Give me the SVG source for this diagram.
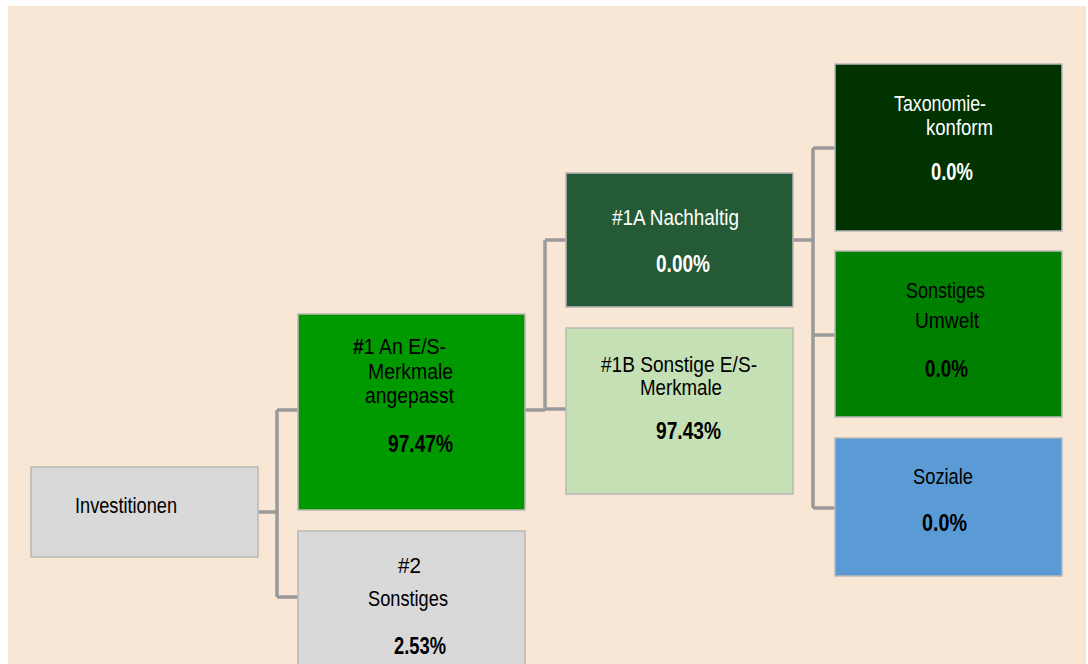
<svg xmlns="http://www.w3.org/2000/svg" width="1088" height="664" viewBox="0 0 1088 664">
<style>
text{font-family:"Liberation Sans",Arial,sans-serif;font-size:22px}
.b{font-weight:bold;font-size:23px}
.w{fill:#ffffff}
.box{stroke:#b8b8b8;stroke-width:1.5}
.con{fill:none;stroke:#9a9a9a;stroke-width:3.5;stroke-linejoin:miter}
</style>
<rect x="0" y="0" width="1088" height="664" fill="#ffffff"/>
<rect x="8" y="6" width="1078" height="658" fill="#f8e7d5"/>
<g id="connectors">
<path class="con" d="M277 410 V597 M277 410 H298 M277 597 H298" />
<path class="con" d="M258 512 H277" stroke-width="6"/>
<path class="con" d="M525 410 H545 M545 240 V409 M545 240 H566 M545 409 H566" />
<path class="con" d="M793 240 H813 M813 148 V508 M813 148 H835 M813 335 H835 M813 508 H835" />
</g>
<g id="n-invest">
<rect class="box" x="31" y="467" width="227" height="90" fill="#d9d9d9"/>
<text x="75" y="513" font-size="24" textLength="102" lengthAdjust="spacingAndGlyphs">Investitionen</text>
</g>
<g id="n-1">
<rect class="box" x="298" y="314" width="227" height="196" fill="#009900"/>
<text x="353" y="354" textLength="93" lengthAdjust="spacingAndGlyphs"><tspan font-weight="bold">#</tspan>1 An E/S-</text>
<text x="368" y="379" textLength="85" lengthAdjust="spacingAndGlyphs">Merkmale</text>
<text x="365" y="403" textLength="89" lengthAdjust="spacingAndGlyphs">angepasst</text>
<text class="b" x="388" y="452" textLength="65" lengthAdjust="spacingAndGlyphs">97.47%</text>
</g>
<g id="n-2">
<rect class="box" x="298" y="531" width="227" height="140" fill="#d9d9d9"/>
<text x="398" y="573" textLength="23" lengthAdjust="spacingAndGlyphs">#2</text>
<text x="368" y="606" textLength="80" lengthAdjust="spacingAndGlyphs">Sonstiges</text>
<text class="b" x="394" y="654" textLength="52" lengthAdjust="spacingAndGlyphs">2.53%</text>
</g>
<g id="n-1a">
<rect class="box" x="566" y="173" width="227" height="134" fill="#245a35"/>
<text class="w" x="612" y="225" textLength="127" lengthAdjust="spacingAndGlyphs">#1A Nachhaltig</text>
<text class="w b" x="656" y="272" textLength="54" lengthAdjust="spacingAndGlyphs">0.00%</text>
</g>
<g id="n-1b">
<rect class="box" x="566" y="328" width="227" height="166" fill="#c5e0b4"/>
<text x="601" y="372" textLength="156" lengthAdjust="spacingAndGlyphs">#1B Sonstige E/S-</text>
<text x="640" y="395" textLength="82" lengthAdjust="spacingAndGlyphs">Merkmale</text>
<text class="b" x="656" y="439" textLength="65" lengthAdjust="spacingAndGlyphs">97.43%</text>
</g>
<g id="n-tax">
<rect class="box" x="835" y="64" width="227" height="167" fill="#003300"/>
<text class="w" x="894" y="111" textLength="92" lengthAdjust="spacingAndGlyphs">Taxonomie-</text>
<text class="w" x="926" y="135" textLength="67" lengthAdjust="spacingAndGlyphs">konform</text>
<text class="w b" x="931" y="180" textLength="42" lengthAdjust="spacingAndGlyphs">0.0%</text>
</g>
<g id="n-umwelt">
<rect class="box" x="835" y="251" width="227" height="166" fill="#008000"/>
<text x="906" y="298" textLength="79" lengthAdjust="spacingAndGlyphs">Sonstiges</text>
<text x="915" y="328" textLength="64" lengthAdjust="spacingAndGlyphs">Umwelt</text>
<text class="b" x="925" y="377" textLength="43" lengthAdjust="spacingAndGlyphs">0.0%</text>
</g>
<g id="n-soz">
<rect class="box" x="835" y="438" width="227" height="138" fill="#5b9bd5"/>
<text x="913" y="484" textLength="60" lengthAdjust="spacingAndGlyphs">Soziale</text>
<text class="b" x="922" y="531" textLength="45" lengthAdjust="spacingAndGlyphs">0.0%</text>
</g>
</svg>
